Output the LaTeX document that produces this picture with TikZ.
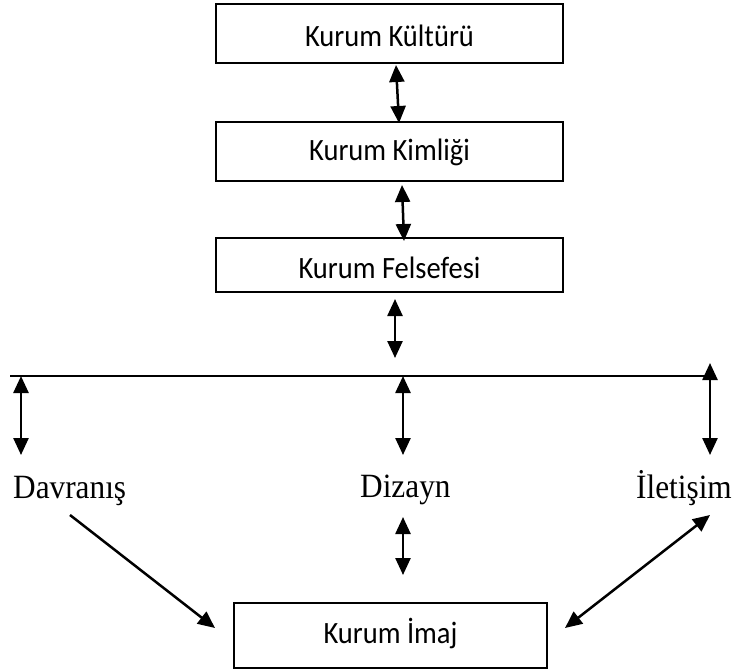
\documentclass[tikz,border=0pt]{standalone}
\usepackage{fontspec}
\setmainfont[FakeStretch=0.92]{Liberation Serif}
\newfontfamily\boxfont[FakeStretch=0.92]{Carlito}
\usetikzlibrary{arrows.meta}
\tikzset{
  boxnode/.style={draw, line width=1.8pt, inner sep=0pt, outer sep=0pt, text depth=0pt,
    font=\boxfont\fontsize{31}{33}\selectfont},
  labnode/.style={inner sep=0pt, anchor=base west,
    font=\fontsize{34}{36}\selectfont},
  dbl/.style={line width=2.5pt, {Triangle[length=17pt,width=15pt]}-{Triangle[length=17pt,width=15pt]}},
  sgl/.style={line width=2.5pt, -{Triangle[length=17pt,width=15pt]}},
  bar/.style={line width=1.8pt}
}
\begin{document}
\begin{tikzpicture}[x=1pt,y=-1pt]
\useasboundingbox (0,0) rectangle (737,670);
% boxes
\node[boxnode, minimum width=347pt, minimum height=59pt, text height=26.4pt] (kultur) at (389.5,33.5) {Kurum Kültürü};
\node[boxnode, minimum width=347pt, minimum height=59pt, text height=17pt] (kimlik) at (389.5,151.5) {Kurum Kimliği};
\node[boxnode, minimum width=347pt, minimum height=54pt, text height=26pt] (felsefe) at (389.5,265) {Kurum Felsefesi};
\node[boxnode, minimum width=313pt, minimum height=65pt, text height=15.6pt] (imaj) at (390.5,635.5) {Kurum İmaj};
% labels
\node[labnode] (davranis) at (13,498) {Davranış};
\node[labnode] (dizayn) at (360,497) {Dizayn};
\node[labnode] (iletisim) at (636,498) {İletişim};
% connector end points
\coordinate (a1s) at (396,65);
\coordinate (a1e) at (399,123);
\coordinate (a2s) at (402,185);
\coordinate (a2e) at (404,241);
\coordinate (a3s) at (395,299);
\coordinate (a3e) at (395,358);
\coordinate (hl) at (10,376);
\coordinate (hr) at (710,376);
\coordinate (ls) at (21,376);
\coordinate (le) at (21,455);
\coordinate (ms) at (403,376);
\coordinate (me) at (403,455);
\coordinate (rs) at (710,363);
\coordinate (re) at (710,455);
\coordinate (ds) at (403,517);
\coordinate (de) at (403,575);
\coordinate (dls) at (70,515);
\coordinate (dle) at (215,628);
\coordinate (drs) at (710,515);
\coordinate (dre) at (565,628);
% connectors
\draw[dbl] (a1s) -- (a1e);
\draw[dbl] (a2s) -- (a2e);
\draw[dbl] (a3s) -- (a3e);
\draw[bar] (hl) -- (hr);
\draw[dbl] (ls) -- (le);
\draw[dbl] (ms) -- (me);
\draw[dbl] (rs) -- (re);
\draw[dbl] (ds) -- (de);
\draw[sgl] (dls) -- (dle);
\draw[dbl] (drs) -- (dre);
\end{tikzpicture}
\end{document}
